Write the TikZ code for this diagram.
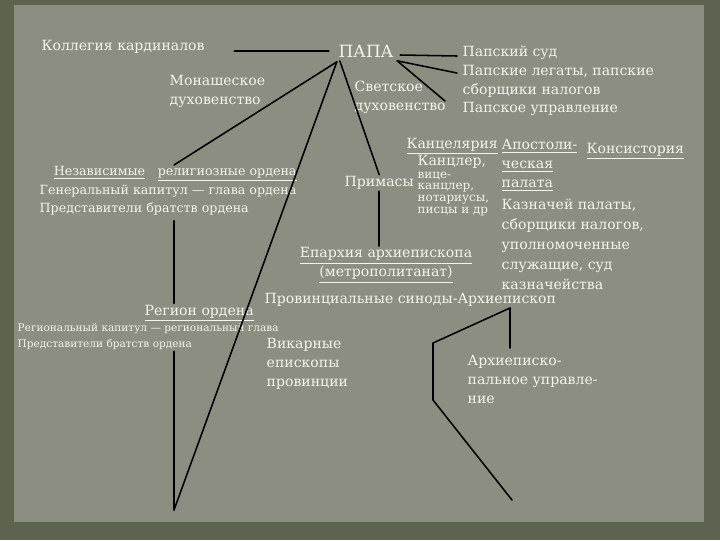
\documentclass[tikz,border=0pt]{standalone}
\usepackage{fontspec}
\setmainfont{DejaVu Serif}
\usetikzlibrary{positioning,calc}
\definecolor{panel}{HTML}{8C8E82}
\definecolor{frame}{HTML}{5E6350}
\definecolor{chalk}{HTML}{F4F4EC}
\newcommand{\mainsz}{\fontsize{10}{13.5}\selectfont}
\newcommand{\smallsz}{\fontsize{7.5}{11.3}\selectfont}
\newcommand{\tinysz}{\fontsize{8.5}{8.3}\selectfont}
\newcommand{\ul}[1]{\underline{#1}}

\begin{document}
\begin{tikzpicture}[x=0.025cm, y=-0.025cm,
    lbl/.style={text=chalk, font=\mainsz, inner sep=1pt, align=left},
    small/.style={lbl, font=\smallsz},
    link/.style={draw=black, line width=1.1pt, line cap=round}]
    \useasboundingbox (0,0) rectangle (720,540);
    % board
    \fill[frame] (0,0) rectangle (720,540);
    \fill[panel] (14,5) rectangle (704,522);

    % top: pope and curia
    \node [lbl, anchor=west] (kol) at (40,47) {Коллегия кардиналов};
    \node [lbl, font=\fontsize{12}{14}\selectfont] (papa) at (366,51) {ПАПА};
    \node [lbl, anchor=north west] (monk) at (168,74) {Монашеское\\духовенство};
    \node [lbl, anchor=north west] (svet) at (353,79) {Светское\\духовенство};
    \node [lbl, anchor=west] (sud) at (461,53) {Папский суд};
    \node [lbl, anchor=north west] (legaty) at (461,64) {Папские легаты, папские\\сборщики налогов};
    \node [lbl, anchor=west] (upr) at (461,109) {Папское управление};

    % curia offices
    \node [lbl, anchor=west] (kanc) at (405,146) {\ul{Канцелярия}};
    \node [lbl, anchor=north west] (apost) at (500,138) {\ul{Апостоли-}\\\ul{ческая}\\\ul{палата}};
    \node [lbl, anchor=west] (kons) at (585,151) {\ul{Консистория}};
    \node [lbl, anchor=west] (kancler) at (416,162) {Канцлер,};
    \node [lbl, font=\tinysz, anchor=north west] (kanclist) at (416,170) {вице-\\канцлер,\\нотариусы,\\писцы и др};
    \node [lbl, font=\fontsize{10}{14.2}\selectfont, anchor=north west] (kazna) at (500,197)
        {Казначей палаты,\\сборщики налогов,\\уполномоченные\\служащие, суд\\казначейства};

    % secular clergy
    \node [lbl, anchor=west] (primas) at (343,183) {Примасы};
    \node [lbl, anchor=north, align=center] (eparch) at (386,246) {\ul{Епархия архиепископа}\\\ul{(метрополитанат)}};
    \node [lbl, anchor=west] (prov) at (263,300) {Провинциальные синоды-Архиепископ};
    \node [lbl, anchor=north west] (vikar) at (265,337) {Викарные\\епископы\\провинции};
    \node [lbl, anchor=north west] (archupr) at (466,354) {Архиеписко-\\пальное управле-\\ние};

    % monastic orders
    \node [lbl, font=\fontsize{9}{13}\selectfont, anchor=north west] (orders) at (38,165)
        {\hspace*{10pt}\ul{Независимые}\quad\ul{религиозные ордена}\\Генеральный капитул — глава ордена\\Представители братств ордена};
    \node [lbl, anchor=west] (region) at (143,313) {\ul{Регион ордена}};
    \node [small, anchor=north west] (regsmall) at (16,322) {Региональный капитул — региональный глава\\Представители братств ордена};

    \coordinate (apex) at (174,510);
    \coordinate (hub) at (510,308);
    \coordinate (bend1) at (433,343);
    \coordinate (bend2) at (433,400);
    \coordinate (tail) at (512,500);

    % connectors
    \draw [link] ($(kol.east)+(28,4)$) -- ($(papa.west)+(-8,0)$);
    \draw [link] ($(papa.east)+(5,4)$) -- ($(sud.west)+(-4,3)$);
    \draw [link] ($(papa.south east)+(2,2)$) -- ($(legaty.north west)+(-4,9)$);
    \draw [link] ($(papa.south east)+(2,2)$) -- ($(upr.west)+(-16,-8)$);
    \draw [link] ($(papa.south west)+(0,3)$) -- (apex |- orders.north);
    \draw [link] ($(papa.south west)+(0,3)$) -- (apex);
    \draw [link] ($(papa.south west)+(3,2)$) -- (primas.north);
    \draw [link] (primas.south) -- (primas.south |- eparch.north);
    \draw [link] ($(apex |- orders.south)+(0,4)$) -- (apex |- region.north);
    \draw [link] (apex |- regsmall.south) -- (apex);
    \draw [link] (hub) -- ($(hub |- archupr.north)+(0,-6)$);
    \draw [link] (hub) -- (bend1) -- (bend2) -- (tail);
\end{tikzpicture}
\end{document}
